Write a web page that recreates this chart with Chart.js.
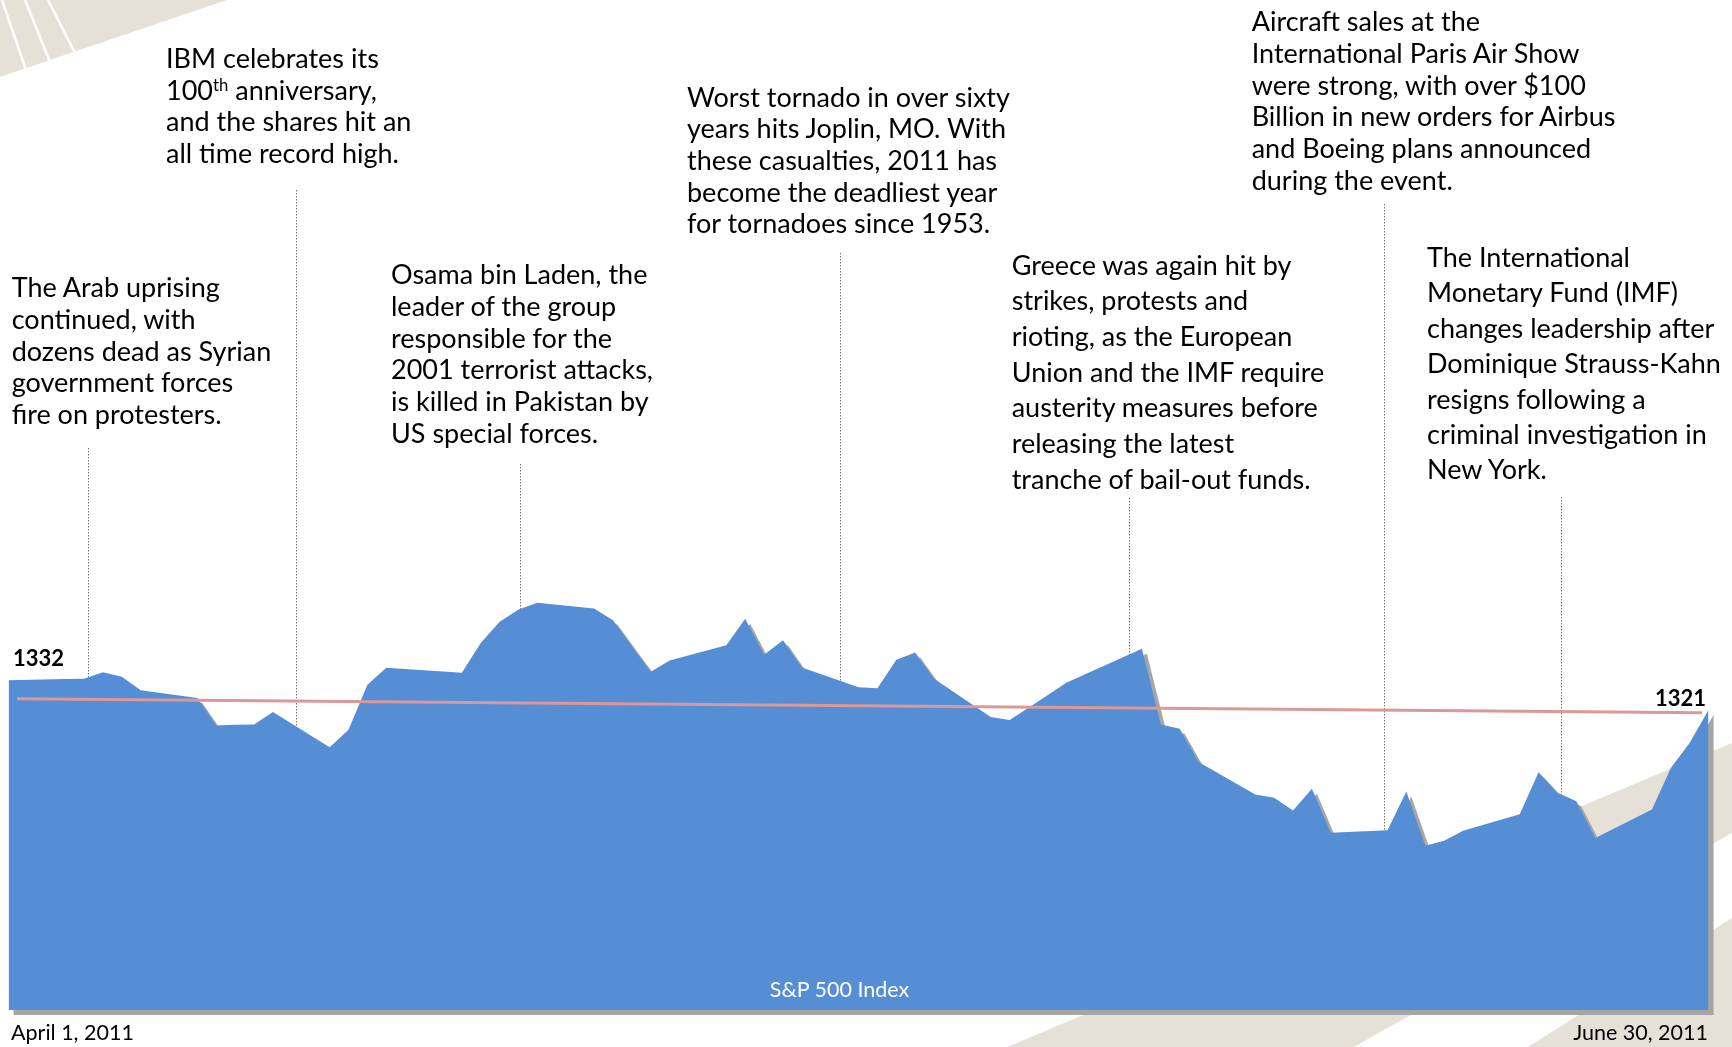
<!DOCTYPE html>
<html>
<head>
<meta charset="utf-8">
<title>S&amp;P 500, April - June 2011</title>
<script src="https://cdn.jsdelivr.net/npm/chart.js@4.4.1/dist/chart.umd.min.js"></script>
<style>
  html, body { margin: 0; padding: 0; background: #fff; }
  #wrap { position: relative; width: 1732px; height: 1047px; overflow: hidden; }
  #chart { position: absolute; left: 0; top: 0; }
  .txt { position: absolute; white-space: nowrap; font-family: Lato, 'Open Sans', sans-serif; color: #000; }
  .txt sup { font-size: 0.62em; line-height: 0; vertical-align: 0.55em; }
</style>
</head>
<body>
<div id="wrap">
  <canvas id="chart" width="1732" height="1047"></canvas>
</div>
<script>
// S&P 500 closes, 1 April - 30 June 2011
// x is the calendar day counted from April 1, so weekends and holidays just join up
const tradingDays = [0, 3, 4, 5, 6, 7, 10, 11, 12, 13, 14, 17, 18, 19, 20, 24, 25, 26, 27, 28,
  31, 32, 33, 34, 35, 38, 39, 40, 41, 42, 45, 46, 47, 48, 49, 52, 53, 54, 55, 56, 60,
  61, 62, 63, 66, 67, 68, 69, 70, 73, 74, 75, 76, 77, 80, 81, 82, 83, 84, 87, 88, 89, 90];
const closes = [1332.4, 1332.9, 1333.0, 1335.6, 1333.8, 1328.4, 1325.3, 1314.3, 1314.6, 1314.7, 1319.7,
  1305.5, 1312.6, 1330.6, 1337.4, 1335.4, 1347.4, 1355.9, 1360.8, 1363.6,
  1361.2, 1356.5, 1346.1, 1335.8, 1340.4, 1346.5, 1357.1, 1342.7, 1348.5, 1337.6,
  1329.6, 1329.2, 1340.7, 1343.6, 1333.0, 1317.7, 1316.5, 1321.4, 1326.4, 1331.4, 1345.1,
  1314.7, 1313.0, 1299.6, 1286.5, 1285.2, 1280.1, 1288.9, 1271.2, 1272.2, 1287.8,
  1266.0, 1268.0, 1272.0, 1278.6, 1295.5, 1287.2, 1283.8, 1269.1, 1280.5, 1297.2, 1307.3, 1320.6];
const seriesName = 'S&P 500 Index';
const dateLabels = ['April 1, 2011', 'June 30, 2011'];

// trend line across the quarter
const trendDays = [0.45, 89.65];
const trendValues = [1325.0, 1319.4];

// news of the quarter, each pinned to a day by a dotted leader
const eventDays = [4.2, 15.2, 27.1, 44.0, 59.3, 72.8, 82.2];
const eventTexts = [
  ['The Arab uprising', 'continued, with', 'dozens dead as Syrian', 'government forces', 'fire on protesters.'],
  ['IBM celebrates its', '100<sup>th</sup> anniversary,', 'and the shares hit an', 'all time record high.'],
  ['Osama bin Laden, the', 'leader of the group', 'responsible for the', '2001 terrorist attacks,', 'is killed in Pakistan by', 'US special forces.'],
  ['Worst tornado in over sixty', 'years hits Joplin, MO. With', 'these casualties, 2011 has', 'become the deadliest year', 'for tornadoes since 1953.'],
  ['Greece was again hit by', 'strikes, protests and', 'rioting, as the European', 'Union and the IMF require', 'austerity measures before', 'releasing the latest', 'tranche of bail-out funds.'],
  ['Aircraft sales at the', 'International Paris Air Show', 'were strong, with over $100', 'Billion in new orders for Airbus', 'and Boeing plans announced', 'during the event.'],
  ['The International', 'Monetary Fund (IMF)', 'changes leadership after', 'Dominique Strauss-Kahn', 'resigns following a', 'criminal investigation in', 'New York.']
];

// where each note sits: text left, first baseline, line pitch, top of its leader
const noteLayout = [
  { x: 11.7, base: 297.7, lh: 31.7, top: 448 },
  { x: 166, base: 68.3, lh: 31.7, top: 190 },
  { x: 391, base: 284.5, lh: 31.7, top: 464 },
  { x: 687, base: 107, lh: 31.7, top: 253 },
  { x: 1011.7, base: 275, lh: 35.7, top: 498 },
  { x: 1251.7, base: 31.7, lh: 31.7, top: 204 },
  { x: 1427, base: 267.2, lh: 35.4, top: 497 }
];

const BLUE = '#558ed5';
const SHADOW = '#a6a6a6';
const TREND = '#db9896';
const BEIGE = '#e5e1d7';
const NOTE_SIZE = 27;

function poly(ctx, pts) {
  ctx.beginPath();
  ctx.moveTo(pts[0][0], pts[0][1]);
  pts.slice(1).forEach(p => ctx.lineTo(p[0], p[1]));
  ctx.closePath();
  ctx.fill();
}

// beige slide decoration behind everything
const backdrop = {
  id: 'backdrop',
  beforeDraw(chart) {
    const ctx = chart.ctx;
    ctx.save();
    ctx.fillStyle = '#fff';
    ctx.fillRect(0, 0, chart.width, chart.height);
    ctx.fillStyle = BEIGE;
    poly(ctx, [[0, 0], [227, 0], [0, 77]]);
    poly(ctx, [[1007, 1047], [1732, 743], [1732, 833], [1354, 1047]]);
    poly(ctx, [[1528, 1047], [1732, 918], [1732, 1047]]);
    ctx.strokeStyle = '#fff';
    ctx.lineWidth = 2.5;
    [[2, 0, 26, 70], [25, 0, 50, 62], [48, 0, 75, 53]].forEach(s => {
      ctx.beginPath();
      ctx.moveTo(s[0], s[1]);
      ctx.lineTo(s[2], s[3]);
      ctx.stroke();
    });
    ctx.restore();
  }
};

// dotted leaders and the drop shadow of the area
const leaders = {
  id: 'leaders',
  beforeDatasetsDraw(chart) {
    const { ctx, chartArea } = chart;
    const x = chart.scales.x;
    ctx.save();
    ctx.strokeStyle = '#777';
    ctx.lineWidth = 1;
    ctx.setLineDash([1.5, 1.5]);
    eventDays.forEach((d, i) => {
      const px = Math.round(x.getPixelForValue(d)) + 0.5;
      ctx.beginPath();
      ctx.moveTo(px, noteLayout[i].top);
      ctx.lineTo(px, chartArea.bottom);
      ctx.stroke();
    });
    ctx.setLineDash([]);

    const pts = chart.getDatasetMeta(0).data;
    const off = 5;
    ctx.fillStyle = SHADOW;
    ctx.beginPath();
    ctx.moveTo(pts[0].x + off, chartArea.bottom + off);
    pts.forEach(p => ctx.lineTo(p.x + off, p.y + off));
    ctx.lineTo(pts[pts.length - 1].x + off, chartArea.bottom + off);
    ctx.closePath();
    ctx.fill();
    ctx.restore();
  }
};

const chart = new Chart(document.getElementById('chart'), {
  type: 'line',
  data: {
    datasets: [{
      label: seriesName,
      data: tradingDays.map((d, i) => ({ x: d, y: closes[i] })),
      backgroundColor: BLUE,
      borderWidth: 0,
      pointRadius: 0,
      tension: 0,
      fill: 'start',
      order: 2
    }, {
      label: 'Trend',
      data: trendDays.map((d, i) => ({ x: d, y: trendValues[i] })),
      borderColor: TREND,
      borderWidth: 3,
      pointRadius: 0,
      fill: false,
      order: 1
    }]
  },
  options: {
    responsive: false,
    animation: false,
    layout: { padding: { left: 8.5, right: 23.4, top: 512, bottom: 37 } },
    scales: {
      x: { type: 'linear', min: 0, max: 90, display: false },
      y: { type: 'linear', min: 1200, max: 1400, display: false }
    },
    plugins: {
      legend: { display: false },
      tooltip: { enabled: false }
    }
  },
  plugins: [backdrop, leaders]
});

// ---- text on top of the canvas ----
const wrap = document.getElementById('wrap');
const measure = document.createElement('canvas').getContext('2d');

function addText(html, o) {
  const size = o.size, weight = o.weight || 'normal';
  const font = weight + ' ' + size + 'px Lato';
  measure.font = font;
  const m = measure.measureText('Hg');
  const asc = m.fontBoundingBoxAscent, desc = m.fontBoundingBoxDescent;
  const lh = o.lh || (asc + desc);
  const el = document.createElement('div');
  el.className = 'txt';
  el.innerHTML = html;
  el.style.fontSize = size + 'px';
  el.style.fontWeight = weight;
  el.style.lineHeight = lh + 'px';
  el.style.color = o.color || '#000';
  el.style.top = (o.base - (lh - asc - desc) / 2 - asc) + 'px';
  if (o.align === 'right') {
    el.style.right = (1732 - o.x) + 'px';
  } else if (o.align === 'center') {
    el.style.left = o.x + 'px';
    el.style.transform = 'translateX(-50%)';
  } else {
    el.style.left = o.x + 'px';
  }
  wrap.appendChild(el);
  return el;
}

eventTexts.forEach((lines, i) => {
  const l = noteLayout[i];
  addText(lines.join('<br>'), { x: l.x, base: l.base, lh: l.lh, size: NOTE_SIZE });
});

const xs = chart.scales.x, ys = chart.scales.y;
const first = closes[0], last = closes[closes.length - 1];
addText(String(Math.round(first)), {
  x: xs.getPixelForValue(tradingDays[0]) + 4.5, base: ys.getPixelForValue(first) - 14, size: 22, weight: 'bold'
});
addText(String(Math.round(last)), {
  x: xs.getPixelForValue(tradingDays[tradingDays.length - 1]) - 2.6, base: ys.getPixelForValue(last) - 4,
  size: 22, weight: 'bold', align: 'right'
});
addText(dateLabels[0], { x: xs.getPixelForValue(0) + 2.5, base: 1040, size: 21.5 });
addText(dateLabels[1], { x: xs.getPixelForValue(90) - 0.6, base: 1040, size: 21.5, align: 'right' });
addText(seriesName.replace('&', '&amp;'), { x: 839.5, base: 996.7, size: 21.5, color: '#fff', align: 'center' });
</script>
</body>
</html>
